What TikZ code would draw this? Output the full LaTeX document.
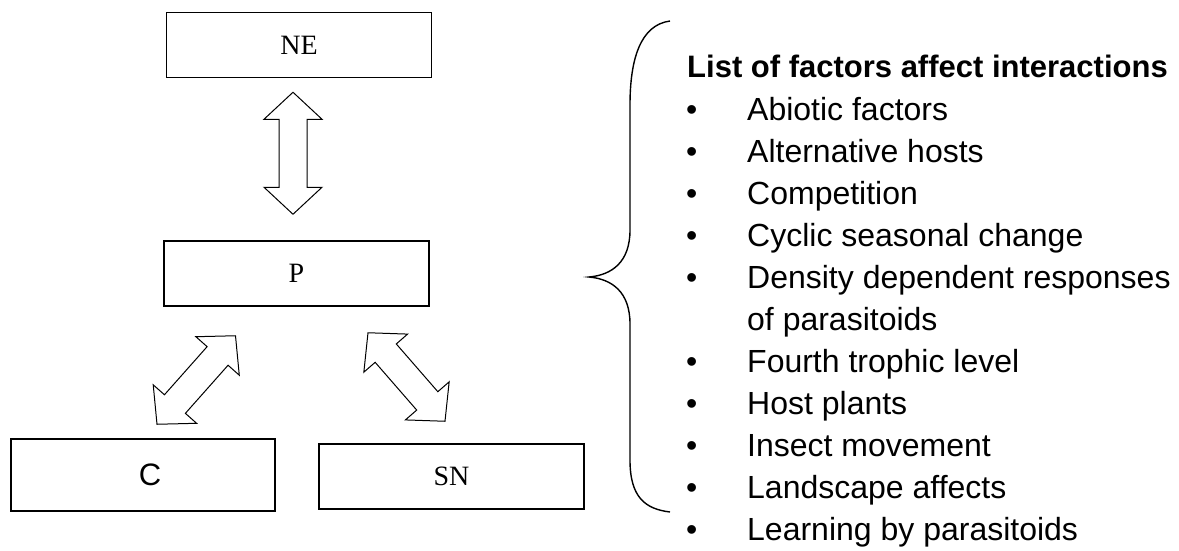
\documentclass[tikz,border=0pt]{standalone}
\usepackage{fontspec}
\setmainfont{Liberation Sans}
\newfontfamily\timesfont{Liberation Serif}
\usepackage{tikz}
\usetikzlibrary{calc}
\tikzstyle{box}=[draw,line width=1.5pt,minimum width=265pt,minimum height=65pt,inner sep=0pt,font=\timesfont\fontsize{28}{32}\selectfont]
\tikzstyle{blockarrow}=[draw,line width=1pt,fill=white,line join=miter]
\tikzstyle{item}=[anchor=base west,inner sep=0pt,font=\fontsize{32}{38}\selectfont]

% hollow arrow with a head at both ends, from tip #1 to tip #2
\newcommand{\dblarrow}[2]{%
  \coordinate (h1) at ($(#1)!27pt!(#2)$);
  \coordinate (h2) at ($(#2)!27pt!(#1)$);
  \path[blockarrow] (#1) -- ($(h1)!29pt!90:(#2)$) -- ($(h1)!14pt!90:(#2)$)
    -- ($(h2)!14pt!-90:(#1)$) -- ($(h2)!29pt!-90:(#1)$) -- (#2)
    -- ($(h2)!29pt!90:(#1)$) -- ($(h2)!14pt!90:(#1)$)
    -- ($(h1)!14pt!-90:(#2)$) -- ($(h1)!29pt!-90:(#2)$) -- cycle;}

\begin{document}
\begin{tikzpicture}[x=1pt,y=-1pt]
    \useasboundingbox (0,0) rectangle (1179,550);
    % First we draw the boxes
    \foreach \pos/\name in {{(299,45)/NE}, {(296.5,273.5)/P}, {(451.5,476.5)/SN}}
        \node[box] (\name) at \pos {\name};
    \node[box,minimum width=264pt,minimum height=72pt,font=\fontsize{31}{36}\selectfont] (C) at (143,475) {\hspace{14pt}C};
    % Tips of the arrows
    \coordinate (ne-tip) at ([xshift=-6pt,yshift=-14pt]NE.south);
    \coordinate (p-tip) at ([xshift=-3.5pt,yshift=26pt]P.north);
    \coordinate (pc-tip) at ([xshift=-61pt,yshift=-29pt]P.south);
    \coordinate (c-tip) at ([xshift=14pt,yshift=14pt]C.north);
    \coordinate (psn-tip) at ([xshift=71.5pt,yshift=-26pt]P.south);
    \coordinate (sn-tip) at ([xshift=-6.5pt,yshift=22pt]SN.north);
    % Connect the boxes with arrows
    \foreach \source/\dest in {ne-tip/p-tip, pc-tip/c-tip, psn-tip/sn-tip}
        \dblarrow{\source}{\dest};
    % The brace
    \draw[line width=1.4pt] (670,21) .. controls (640,25) and (630,60) .. (630,105)
        -- (630,230) .. controls (630,262) and (612,275) .. (589,277)
        .. controls (612,279) and (630,292) .. (630,324)
        -- (630,460) .. controls (630,497) and (645,509) .. (670,512);
    % The list of factors
    \node[item,font=\bfseries\fontsize{31}{38}\selectfont] (title) at (687,77) {List of factors affect interactions};
    \foreach \y/\txt in {120/Abiotic factors, 162/Alternative hosts, 204/Competition, 246/Cyclic seasonal change,
        288/Density dependent responses, 330/of parasitoids, 372/Fourth trophic level, 414/Host plants,
        456/Insect movement, 498/Landscape affects, 540/Learning by parasitoids}
        \node[item] (item-\y) at (747,\y) {\txt};
    \foreach \y in {120,162,204,246,288,372,414,456,498,540}
        \node[item] (dot-\y) at (686,\y) {\textbullet};
\end{tikzpicture}
\end{document}
